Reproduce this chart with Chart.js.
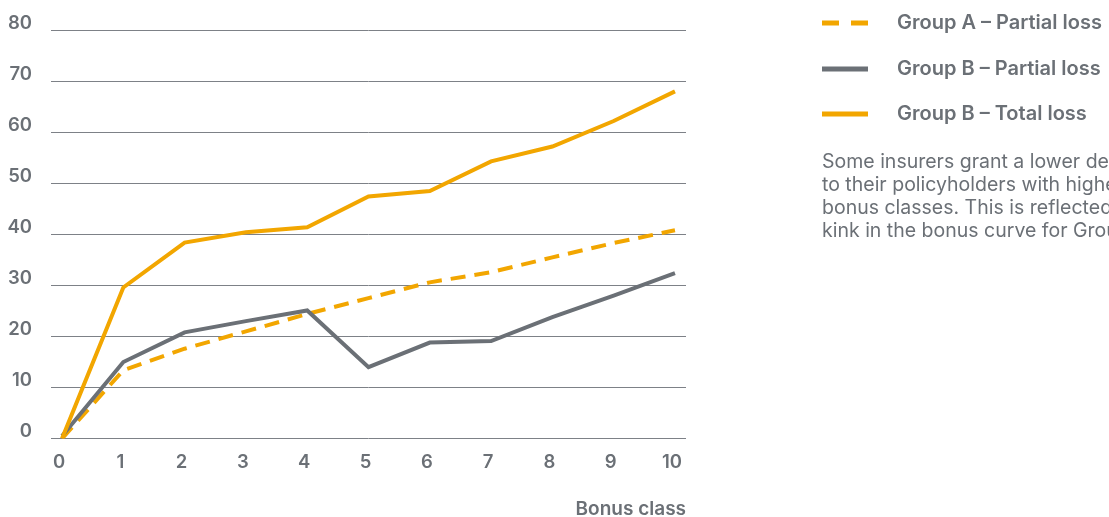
<!DOCTYPE html>
<html>
<head>
<meta charset="utf-8">
<script src="https://cdn.jsdelivr.net/npm/chart.js@4.4.1/dist/chart.umd.min.js"></script>
<style>
  html, body { margin:0; padding:0; background:#fff; }
  body { width:1109px; height:517px; position:relative; overflow:hidden; font-family:Inter, "Noto Sans", sans-serif; color:#6b7076; }
  #chartBox { position:absolute; left:0; top:0; width:700px; height:517px; }
  #legend { position:absolute; left:822px; top:8px; width:400px; }
  .legend-item { height:45.5px; display:flex; align-items:flex-start; }
  .legend-item canvas { margin-top:12px; }
  .legend-item span { margin-left:29px; font-size:20px; font-weight:600; line-height:28px; white-space:nowrap; }
  #note { position:absolute; left:822px; top:150px; width:400px; font-size:19.5px; line-height:22.9px; white-space:nowrap; }
</style>
</head>
<body>
<div id="chartBox"><canvas id="lossChart"></canvas></div>
<div id="legend"></div>
<div id="note">Some insurers grant a lower deductible<br>to their policyholders with higher<br>bonus classes. This is reflected in the<br>kink in the bonus curve for Group B.</div>
<script>
const bonusClasses = [0, 1, 2, 3, 4, 5, 6, 7, 8, 9, 10];
const groupAPartial = [0, 13.4, 17.6, 21, 24.4, 27.5, 30.6, 32.6, 35.5, 38.3, 40.8];
const groupBPartial = [0.5, 15, 20.8, 23, 25.1, 14, 18.8, 19.1, 23.8, 28, 32.4];
const groupBTotal = [0, 29.6, 38.4, 40.4, 41.4, 47.4, 48.5, 54.3, 57.2, 62.2, 68];
const yTicks = [0, 10, 20, 30, 40, 50, 60, 70, 80];
const seriesNames = ['Group A – Partial loss', 'Group B – Partial loss', 'Group B – Total loss'];

const ORANGE = '#f2a600';
const GREY = '#6b7076';

function toPoints(vals) {
  return bonusClasses.map((x, i) => ({x: x, y: vals[i]}));
}

const datasets = [
  {label: seriesNames[0], data: toPoints(groupAPartial), borderColor: ORANGE, borderDash: [15, 9], order: 3},
  {label: seriesNames[1], data: toPoints(groupBPartial), borderColor: GREY, order: 2},
  {label: seriesNames[2], data: toPoints(groupBTotal), borderColor: ORANGE, order: 1}
].map(d => Object.assign({borderWidth: 4, pointRadius: 0, tension: 0, fill: false, borderCapStyle: 'butt', borderJoinStyle: 'miter'}, d));

// legend built from datasets
const legend = document.getElementById('legend');
datasets.forEach(ds => {
  const item = document.createElement('div');
  item.className = 'legend-item';
  const c = document.createElement('canvas');
  c.width = 46; c.height = 6;
  const ctx = c.getContext('2d');
  ctx.strokeStyle = ds.borderColor;
  ctx.lineWidth = 5;
  if (ds.borderDash) ctx.setLineDash([17, 12]);
  ctx.beginPath(); ctx.moveTo(0, 3); ctx.lineTo(46, 3); ctx.stroke();
  item.appendChild(c);
  const s = document.createElement('span');
  s.textContent = ds.label;
  item.appendChild(s);
  legend.appendChild(item);
});

const tickFont = {family: 'Inter', size: 18.5, weight: '600'};

new Chart(document.getElementById('lossChart'), {
  type: 'line',
  data: {datasets},
  options: {
    responsive: true,
    maintainAspectRatio: false,
    animation: false,
    layout: {padding: {top: 20, right: 14, left: 0, bottom: 0}},
    plugins: {legend: {display: false}, tooltip: {enabled: false}},
    scales: {
      x: {
        type: 'linear',
        min: -0.18,
        max: 10.18,
        afterBuildTicks: s => { s.ticks = bonusClasses.map(v => ({value: v})); },
        grid: {display: false, drawTicks: false},
        border: {display: false},
        ticks: {color: GREY, font: tickFont, padding: 13, labelOffset: -3, maxRotation: 0, autoSkip: false},
        title: {display: true, text: 'Bonus class', align: 'end', color: GREY, font: {family: 'Inter', size: 19, weight: '600', lineHeight: 0.8}, padding: {top: 15, bottom: 0}}
      },
      y: {
        min: 0,
        max: 80,
        afterBuildTicks: s => { s.ticks = yTicks.map(v => ({value: v})); },
        afterFit: s => { s.width = 51; },
        grid: {color: '#7d8187', lineWidth: 1, drawTicks: false},
        border: {display: false},
        ticks: {color: GREY, font: tickFont, padding: 19, labelOffset: -7}
      }
    }
  }
});
</script>
</body>
</html>
